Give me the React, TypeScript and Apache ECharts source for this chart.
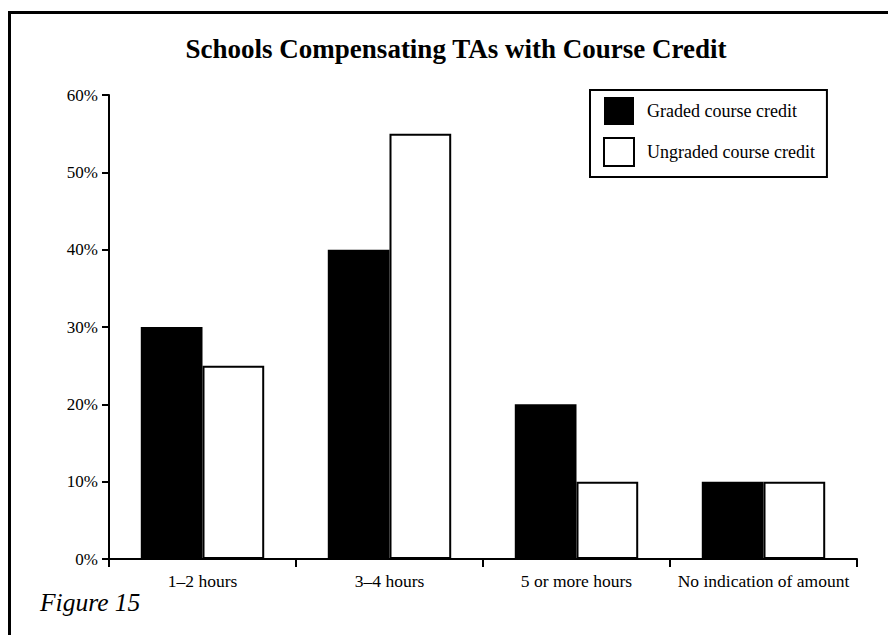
import React, { useEffect, useRef } from "react";
import * as echarts from "echarts";

const categories = ["1–2 hours", "3–4 hours", "5 or more hours", "No indication of amount"];
const gradedValues = [30, 40, 20, 10];
const ungradedValues = [25, 55, 10, 10];
const seriesNames = ["Graded course credit", "Ungraded course credit"];
const titleText = "Schools Compensating TAs with Course Credit";
const figureLabel = "Figure 15";

const FONT = "'Liberation Serif', 'DejaVu Serif', serif";

export default function App() {
  const ref = useRef<HTMLDivElement>(null);
  useEffect(() => {
    if (!ref.current) return;
    const chart = echarts.init(ref.current, undefined, { renderer: "svg" });
    chart.setOption({
      animation: false,
      backgroundColor: "#ffffff",
      title: {
        text: titleText,
        left: 451,
        textAlign: "center",
        top: 30,
        textStyle: { fontFamily: FONT, fontWeight: "bold", fontSize: 27, color: "#000" },
      },
      legend: {
        orient: "vertical",
        left: 590,
        top: 90,
        padding: [7, 12, 10, 13],
        icon: "rect",
        itemWidth: 30,
        itemHeight: 28,
        itemGap: 12,
        borderColor: "#000",
        borderWidth: 2,
        textStyle: { fontFamily: FONT, fontSize: 18, color: "#000", padding: [0, 0, 0, 8] },
        data: seriesNames,
      },
      grid: { left: 109, right: 31, top: 95, bottom: 76, containLabel: false },
      xAxis: {
        type: "category",
        data: categories,
        axisLine: { lineStyle: { color: "#000", width: 2 } },
        axisTick: { show: true, interval: 0, length: 8, lineStyle: { color: "#000", width: 2 } },
        axisLabel: { interval: 0, fontFamily: FONT, fontSize: 17.5, color: "#000", margin: 13 },
      },
      yAxis: {
        type: "value",
        min: 0,
        max: 60,
        interval: 10,
        splitLine: { show: false },
        axisLine: { show: true, lineStyle: { color: "#000", width: 2 } },
        axisTick: { show: true, length: 7, lineStyle: { color: "#000", width: 2 } },
        axisLabel: { fontFamily: FONT, fontSize: 17, color: "#000", formatter: "{value}%", margin: 11 },
      },
      series: [
        {
          name: seriesNames[0],
          type: "bar",
          data: gradedValues,
          barGap: "0%",
          barCategoryGap: "34%",
          itemStyle: { color: "#000", borderColor: "#000", borderWidth: 0 },
        },
        {
          name: seriesNames[1],
          type: "bar",
          data: ungradedValues,
          barGap: "0%",
          barCategoryGap: "34%",
          itemStyle: { color: "#fff", borderColor: "#000", borderWidth: 2 },
        },
      ],
      graphic: [
        { type: "line", shape: { x1: 9.5, y1: 11, x2: 9.5, y2: 635 }, style: { stroke: "#000", lineWidth: 3 } },
        { type: "line", shape: { x1: 8, y1: 12.5, x2: 888, y2: 12.5 }, style: { stroke: "#000", lineWidth: 3 } },
        {
          type: "text",
          left: 40,
          top: 589,
          style: { text: figureLabel, fontFamily: FONT, fontStyle: "italic", fontSize: 25.5, fill: "#000" },
        },
      ],
    });
    return () => chart.dispose();
  }, []);
  return <div ref={ref} style={{ position: "fixed", left: 0, top: 0, width: 888, height: 635 }} />;
}
